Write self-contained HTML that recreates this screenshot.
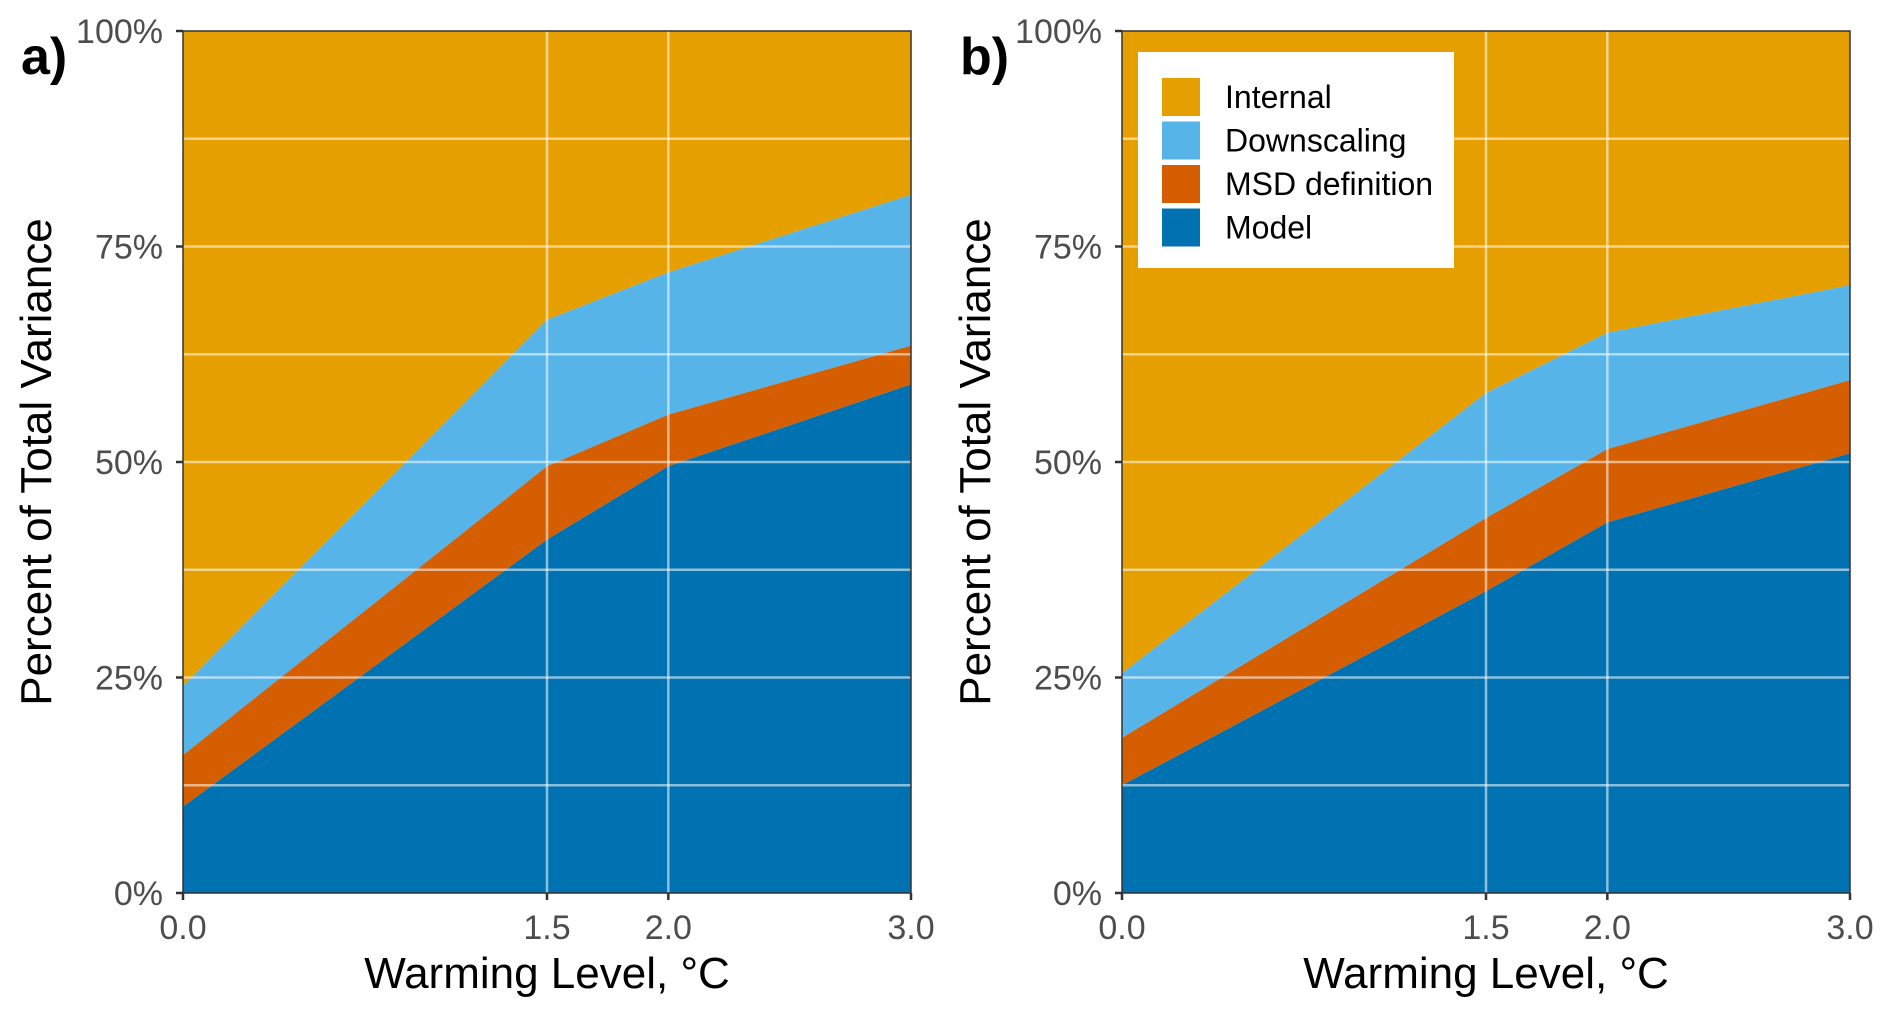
<!DOCTYPE html>
<html><head><meta charset="utf-8"><style>
html,body{margin:0;padding:0;background:#fff}
svg text{font-family:"Liberation Sans",Arial,sans-serif}
</style></head><body>
<svg id="chart" width="1892" height="1016" viewBox="0 0 1892 1016" xmlns="http://www.w3.org/2000/svg"></svg>
<script>
const xCats = [0, 1.5, 2.0, 3.0];
const xTickLabels = ["0.0", "1.5", "2.0", "3.0"];
const yTicks = [0, 25, 50, 75, 100];
const yTickLabels = ["0%", "25%", "50%", "75%", "100%"];
const seriesNames = ["Internal", "Downscaling", "MSD definition", "Model"];
const aModelTop = [10, 41, 49.5, 59];
const aMsdTop = [16, 49.5, 55.5, 63.5];
const aDownTop = [24, 66.5, 72, 81];
const bModelTop = [12.5, 35, 43, 51];
const bMsdTop = [18, 43.5, 51.5, 59.5];
const bDownTop = [25.5, 58, 65, 70.5];

const NS = "http://www.w3.org/2000/svg";
const svg = document.getElementById("chart");
const colors = {"Internal":"#E69F00","Downscaling":"#56B4E9","MSD definition":"#D55E00","Model":"#0072B2"};
function mk(tag, attrs, parent){const e=document.createElementNS(NS,tag);for(const k in attrs)e.setAttribute(k,attrs[k]);(parent||svg).appendChild(e);return e;}

function panel(id, x0, x1, label, model, msd, down, legend){
  const y0 = 893, y1 = 31;
  const sx = v => x0 + (v - 0) / 3 * (x1 - x0);
  const sy = v => y0 - v / 100 * (y0 - y1);
  const g = mk("g", {});
  
  
  const band = (top, bot, name) => {
    let d = "M" + xCats.map((c,i)=>sx(c)+","+sy(top[i])).join("L");
    for (let i = xCats.length-1; i >= 0; i--) d += "L" + sx(xCats[i]) + "," + sy(bot ? bot[i] : 0);
    d += "Z";
    const p = mk("path", {d:d, fill:colors[name]}, g);
    
    
  };
  const full = [100,100,100,100];
  band(full, down, "Internal");
  band(down, msd, "Downscaling");
  band(msd, model, "MSD definition");
  band(model, null, "Model");
  for (let v = 12.5; v < 100; v += 12.5) {
    const l = mk("line", {x1:x0, x2:x1, y1:sy(v), y2:sy(v), stroke:"#ffffff", "stroke-opacity":0.55, "stroke-width": 2.5}, g);
    
    
  }
  xCats.forEach(c => {
    if (c > 0 && c < 3) {
      const l = mk("line", {x1:sx(c), x2:sx(c), y1:y1, y2:y0, stroke:"#ffffff", "stroke-opacity":0.55, "stroke-width":2.5}, g);
      
      
    }
  });
  const fr = mk("rect", {x:x0, y:y1, width:x1-x0, height:y0-y1, fill:"none", stroke:"#333", "stroke-width":1.5}, g);
  
  
  yTicks.forEach((v,i) => {
    mk("line", {x1:x0-7, x2:x0, y1:sy(v), y2:sy(v), stroke:"#333", "stroke-width":2.5}, g);
    const t = mk("text", {x:x0-20, y:sy(v)+12, "text-anchor":"end", "font-size":34, fill:"#4d4d4d"}, g);
    t.textContent = yTickLabels[i];
    
    
  });
  xCats.forEach((c,i) => {
    mk("line", {x1:sx(c), x2:sx(c), y1:y0, y2:y0+7, stroke:"#333", "stroke-width":2.5}, g);
    const t = mk("text", {x:sx(c), y:939, "text-anchor":"middle", "font-size":34, fill:"#4d4d4d"}, g);
    t.textContent = xTickLabels[i];
    
    
  });
  const xt = mk("text", {x:(x0+x1)/2, y:988, "text-anchor":"middle", "font-size":44, fill:"#000"}, g);
  xt.textContent = "Warming Level, °C";
  
  
  const yx = x0 - 132;
  const yt = mk("text", {x:yx, y:462, "text-anchor":"middle", "font-size":44, fill:"#000", transform:"rotate(-90 "+yx+" 462)"}, g);
  yt.textContent = "Percent of Total Variance";
  
  
  const pl = mk("text", {x:x0-162, y:74, "font-size":52, "font-weight":"bold", fill:"#000"}, g);
  pl.textContent = label;
  
  
  if (legend) {
    const lg = mk("g", {}, g);
    
    
    mk("rect", {x:1138, y:52, width:316, height:216, fill:"#fff"}, lg);
    seriesNames.forEach((n,i) => {
      const cy = 97 + i*43.5;
      const e = mk("g", {}, lg);
      
      
      mk("rect", {x:1162, y:cy-19, width:38, height:38, fill:colors[n]}, e);
      const t = mk("text", {x:1225, y:cy+11, "font-size":32, fill:"#000"}, e);
      t.textContent = n;
    });
  }
}
panel("a", 183, 911, "a)", aModelTop, aMsdTop, aDownTop, false);
panel("b", 1122, 1850, "b)", bModelTop, bMsdTop, bDownTop, true);
</script>
</body></html>
